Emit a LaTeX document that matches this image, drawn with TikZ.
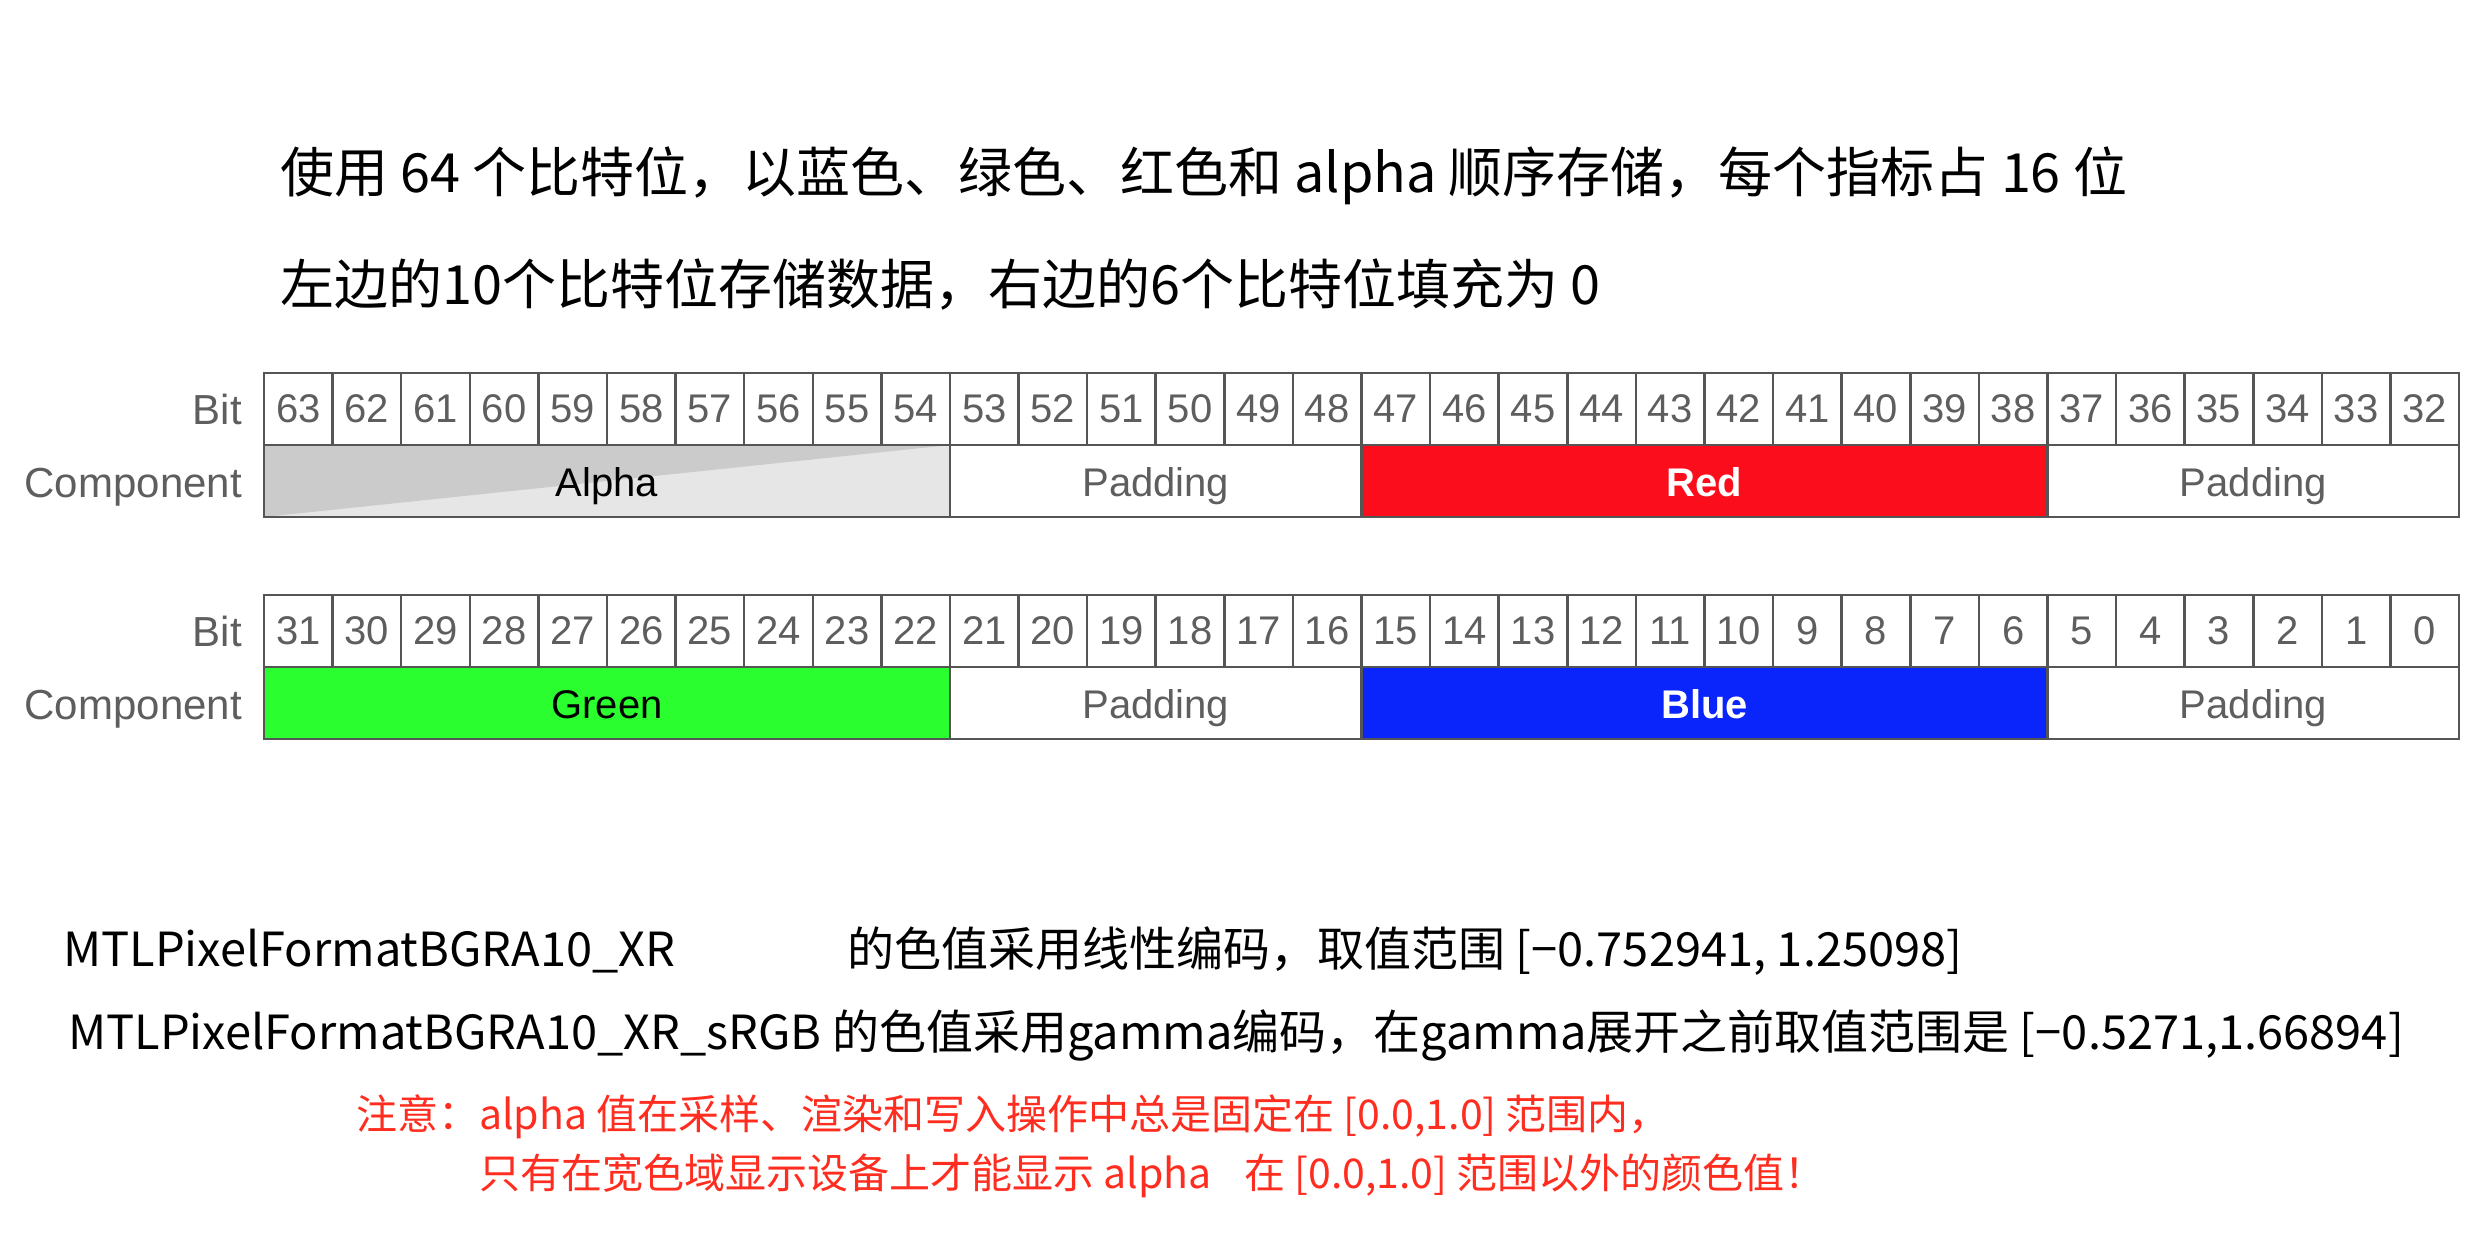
\documentclass[tikz,border=0pt]{standalone}
\usepackage{fontspec}
\setmainfont{Noto Sans CJK SC}
\newfontfamily\tablefont{Liberation Sans}
\definecolor{GridLine}{HTML}{555555}
\definecolor{LabelGray}{HTML}{5E5E5E}
\definecolor{AlphaDark}{HTML}{CBCBCB}
\definecolor{AlphaLight}{HTML}{E6E6E6}
\definecolor{CompRed}{HTML}{FC0D1B}
\definecolor{CompGreen}{HTML}{2BFE2E}
\definecolor{CompBlue}{HTML}{0A24FC}
\definecolor{NoteRed}{HTML}{FF2D1F}
\tikzset{
  bitnum/.style={text=LabelGray,inner sep=0pt,font=\tablefont\fontsize{40}{44}\selectfont},
  rowlabel/.style={anchor=base east,inner sep=0pt,text=LabelGray,font=\tablefont\fontsize{42}{46}\selectfont},
  comptext/.style={anchor=base,inner sep=0pt,font=\tablefont\fontsize{40}{44}\selectfont},
  gridline/.style={draw=GridLine,line width=2.5pt},
  headline/.style={anchor=west,inner sep=0pt,font=\fontsize{54}{60}\selectfont},
  formatline/.style={anchor=west,inner sep=0pt,font=\fontsize{47}{52}\selectfont},
  noteline/.style={anchor=west,inner sep=0pt,text=NoteRed,font=\fontsize{41}{46}\selectfont},
}
\def\gx{264}
\def\cw{68.594}
\begin{document}
\begin{tikzpicture}[x=1pt,y=-1pt]
\path[use as bounding box] (0,0) rectangle (2481,1244);
\fill[white] (0,0) rectangle (2481,1244);
% heading
\node[headline] (head1) at (280,176) {使用 64 个比特位，以蓝色、绿色、红色和 alpha 顺序存储，每个指标占 16 位};
\node[headline] (head2) at (280,285) {左边的10个比特位存储数据，右边的6个比特位填充为 0};
% bit rows
\foreach \top/\hi [count=\r] in {373/63,595/31} {
  \pgfmathsetmacro{\mid}{\top+72}
  \node[rowlabel] (bitlabel\r) at (242,{\top+51}) {Bit};
  \node[rowlabel] (complabel\r) at (242,{\top+124}) {Component};
  \foreach \i in {0,...,31} {
    \pgfmathtruncatemacro{\b}{\hi-\i}
    \draw[gridline] ({\gx+\i*\cw},\top) rectangle ({\gx+(\i+1)*\cw},\mid);
    \node[bitnum] (bit\b) at ({\gx+(\i+0.5)*\cw},{\top+36}) {\b};
  }
}
% component row 1
\fill[AlphaLight] (\gx,445) rectangle ({\gx+10*\cw},517);
\fill[AlphaDark] (\gx,445) -- ({\gx+10*\cw},445) -- (\gx,517) -- cycle;
\fill[CompRed] ({\gx+16*\cw},445) rectangle ({\gx+26*\cw},517);
\foreach \a/\b in {0/10,10/16,16/26,26/32}
  \draw[gridline] ({\gx+\a*\cw},445) rectangle ({\gx+\b*\cw},517);
\node[comptext] (alpha) at ({\gx+5*\cw},496) {Alpha};
\node[comptext,text=LabelGray] (padA) at ({\gx+13*\cw},496) {Padding};
\node[comptext,text=white,font=\tablefont\bfseries\fontsize{40}{44}\selectfont] (red) at ({\gx+21*\cw},496) {Red};
\node[comptext,text=LabelGray] (padB) at ({\gx+29*\cw},496) {Padding};
% component row 2
\fill[CompGreen] (\gx,667) rectangle ({\gx+10*\cw},739);
\fill[CompBlue] ({\gx+16*\cw},667) rectangle ({\gx+26*\cw},739);
\foreach \a/\b in {0/10,10/16,16/26,26/32}
  \draw[gridline] ({\gx+\a*\cw},667) rectangle ({\gx+\b*\cw},739);
\node[comptext] (green) at ({\gx+5*\cw},718) {Green};
\node[comptext,text=LabelGray] (padC) at ({\gx+13*\cw},718) {Padding};
\node[comptext,text=white,font=\tablefont\bfseries\fontsize{40}{44}\selectfont] (blue) at ({\gx+21*\cw},718) {Blue};
\node[comptext,text=LabelGray] (padD) at ({\gx+29*\cw},718) {Padding};
% format notes
\node[formatline] (fmtxr) at (63,951) {MTLPixelFormatBGRA10\_XR};
\node[formatline] (fmtxrrange) at (847,951) {的色值采用线性编码，取值范围 [−0.752941, 1.25098]};
\node[formatline] (fmtsrgb) at (68,1035) {MTLPixelFormatBGRA10\_XR\_sRGB 的色值采用gamma编码，在gamma展开之前取值范围是 [−0.5271,1.66894]};
\node[noteline] (note1) at (356,1117) {注意：alpha 值在采样、渲染和写入操作中总是固定在 [0.0,1.0] 范围内，};
\node[noteline] (note2) at (479,1176) {只有在宽色域显示设备上才能显示 alpha\hspace{0.8em}在 [0.0,1.0] 范围以外的颜色值！};
\end{tikzpicture}
\end{document}
